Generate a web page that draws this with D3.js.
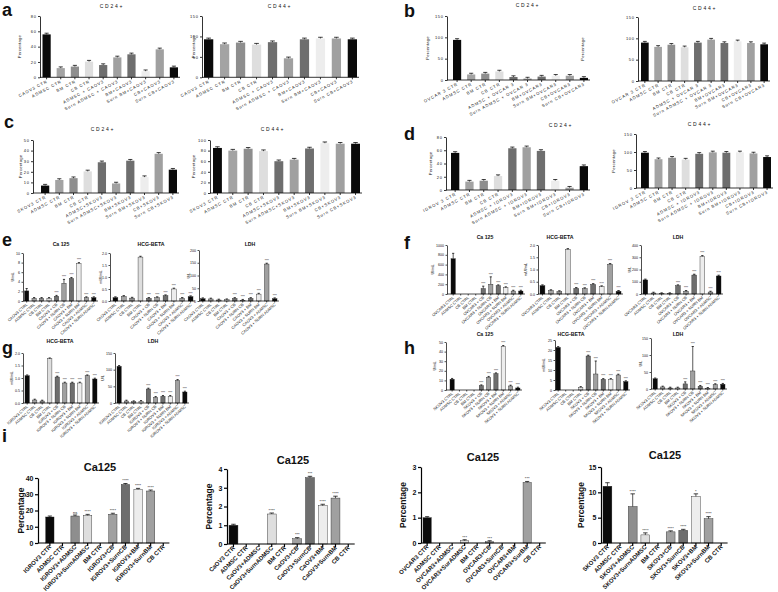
<!DOCTYPE html>
<html>
<head>
<meta charset="utf-8">
<script src="https://cdn.jsdelivr.net/npm/d3@7"></script>
<style>
body{margin:0;background:#fff}
svg{display:block}
text{font-family:"Liberation Sans",Arial,sans-serif;fill:#111}
</style>
</head>
<body>
<svg id="fig" width="778" height="592"></svg>
<script>
// ---- data ----
var shades = ["#0a0a0a","#a3a3a3","#8e8e8e","#dedede","#6e6e6e","#a0a0a0","#6e6e6e","#ededed","#a0a0a0","#0a0a0a"];

var labelsA = ["CAOV3 CTR","ADMSC CTR","BM CTR","CB CTR","ADMSC + CAOV3","Surn ADMSC + CAOV3","BM+CAOV3","Surn BM+CAOV3","CB+CAOV3","Surn CB+CAOV3"];
var labelsB = ["OVCAR 3 CTR","ADMSC CTR","BM CTR","CB CTR","ADMSC + OVCAR 3","Surn ADMSC + OVCAR 3","BM+OVCAR3","Surn BM+OVCAR3","CB+OVCAR3","Surn CB+OVCAR3"];
var labelsC = ["SKOV3 CTR","ADMSC CTR","BM CTR","CB CTR","ADMSC+SKOV3","Surn ADMSC+SKOV3","BM+SKOV3","Surn BM+SKOV3","CB+SKOV3","Surn CB+SKOV3"];
var labelsD = ["IGROV 3 CTR","ADMSC CTR","BM CTR","CB CTR","ADMSC + IGROV3","Surn ADMSC + IGROV3","BM+IGROV3","Surn BM+IGROV3","CB+IGROV3","Surn CB+IGROV3"];

var aCD24 = [56, 12, 14, 20.5, 16, 26, 30, 8, 36.5, 13];
var aCD44 = [93, 81, 85, 80, 86, 46.5, 93, 95, 95, 93];
var bCD24 = [94, 13, 15, 20, 7, 3.5, 8, 10, 10, 5];
var bCD44 = [90, 80, 85, 79, 90, 97, 89, 93, 89, 86];
var cCD24 = [7, 12.3, 14, 20.4, 29, 9, 30.5, 15, 37, 22];
var cCD44 = [85, 80, 83.5, 79, 60, 63, 84, 94, 93, 93];
var dCD24 = [56, 12.7, 14, 21, 63, 64.5, 59, 14, 3.5, 36];
var dCD44 = [98, 80, 84, 79, 95, 99, 98, 99, 96, 86];

function markerLabels(cell){
  return [cell+" CTRL","ADMSC CTRL","CB CTRL","BM CTRL",cell+" + CB",cell+" + SURN CB",cell+" + BM",cell+" + SURN BM",cell+" + ADMSC",cell+" + SURN ADMSC"];
}
var labelsE = markerLabels("CAOV3");
var labelsF = markerLabels("OVCAR3");
var labelsG = markerLabels("IGROV3");
var labelsH = markerLabels("SKOV3");
var sigEH = ["","","","","****","****","****","****","****","****"];

var eCa125 = [2.1, 0.55, 0.55, 0.55, 1.0, 3.7, 4.7, 7.8, 0.7, 0.7];
var eCa125Err = [0.5, 0, 0, 0, 0.1, 0.8, 0.2, 0.2, 0.05, 0.05];
var eHCG = [0.14, 0.19, 0.12, 1.83, 0.11, 0.14, 0.22, 0.5, 0.11, 0.18];
var eLDH = [9, 8, 4, 5, 10, 3, 10, 27, 145, 9];
var fCa125 = [720, 0, 0, 0, 110, 200, 170, 130, 60, 60];
var fCa125Err = [110, 0, 0, 0, 50, 150, 15, 10, 10, 10];
var fHCG = [0.34, 0.14, 0.1, 1.82, 0.23, 0.22, 0.39, 0.3, 1.21, 0.11];
var fLDH = [115, 8, 3, 3, 68, 22, 155, 307, 16, 147];
var gHCG = [1.09, 0.12, 0.08, 1.77, 1.04, 0.8, 0.8, 0.8, 1.09, 0.96];
var gLDH = [110, 6, 4, 5, 42, 17, 20, 20, 68, 33];
var hCa125 = [11.2, 0, 0, 0, 4.5, 13.3, 17, 45.5, 4.2, 2.1];
var hHCG = [21.3, 0, 0, 1.3, 17, 8, 5.3, 5.3, 7.5, 4.2];
var hHCGErr = [0.4, 0, 0, 0.1, 0.3, 6.5, 0.3, 0.3, 0.4, 0.3];
var hLDH = [30, 6, 3, 3, 15, 53, 8, 2, 13, 14];
var hLDHErr = [2, 0, 0, 0, 6, 72, 1, 0, 2, 2];

function iLabels(cell, s){
  return [cell+" CTR","ADMSC CTR",cell+"+ADMSC",cell+"+"+s+"ADMSC","BM CTR",cell+"+CB",cell+"+SurnCB",cell+"+BM",cell+"+"+s+"BM","CB CTR"];
}
var labelsI1 = iLabels("IGROV3","Surn");
var labelsI2 = iLabels("CaOV3","Surn");
var labelsI3 = iLabels("OVCAR3","Sur");
var labelsI4 = iLabels("SKOV3","Surn");

var iIGROV3 = [16, null, 16.6, 17, null, 17.7, 36, 33, 32, null];
var iIGROV3Err = [0.5, 0, 0.5, 0.3, 0, 0.4, 0.5, 0.5, 0.4, 0];
var iIGROV3Sig = ["","","ns","****","","****","****","****","****",""];
var iCAOV3 = [1.0, null, null, 1.6, null, 0.28, 3.54, 2.04, 2.45, null];
var iCAOV3Err = [0, 0, 0, 0.05, 0, 0.06, 0.07, 0.08, 0.1, 0];
var iCAOV3Sig = ["","","","****","","***","***","****","****",""];
var iOVCAR3 = [1.0, null, null, 0.09, null, 0.05, null, null, 2.39, null];
var iOVCAR3Err = [0, 0, 0, 0.02, 0, 0.02, 0, 0, 0.03, 0];
var iOVCAR3Sig = ["","","","***","","***","","","***",""];
var iSKOV3 = [11.2, null, 7.2, 1.6, null, 2.2, 2.5, 9.2, 4.8, null];
var iSKOV3Err = [0.7, 0, 2.5, 0.4, 0, 0.15, 0.15, 0.5, 0.4, 0];
var iSKOV3Sig = ["","","****","****","","****","****","*","****",""];

// ---- drawing ----
var svg = d3.select("#fig");

var styles = {
  cd: {tick:2, tickFont:4, tickSp:0.6, labFont:4.2, labSp:0.9, angle:28, labDy:5, titleFont:5, titleSp:1.8, titleW:"normal", ylabFont:4.2, ylabW:"normal", ylabSp:0.2, axisW:0.8, cap:1.2, stroke:"none", sigFont:3, tickW:"normal", labW:"normal"},
  eh: {tick:1.5, tickFont:3.6, tickSp:0, labFont:4, labSp:0, angle:42, labDy:4, titleFont:5.2, titleSp:0, titleW:"bold", ylabFont:3.8, ylabW:"normal", ylabSp:0, axisW:0.7, cap:0.8, stroke:"#222", sigFont:2.6, tickW:"normal", labW:"normal"},
  i:  {tick:3, tickFont:7, tickSp:0, labFont:6, labSp:0, angle:45, labDy:4.5, titleFont:11, titleSp:0, titleW:"bold", ylabFont:8.5, ylabW:"bold", ylabSp:0, axisW:1.2, cap:1, stroke:"#222", sigFont:4, tickW:"bold", labW:"bold"}
};

function barChart(c){
  var st = styles[c.kind];
  var g = svg.append("g");
  var n = c.vals.length;
  var x = d3.scaleBand().domain(d3.range(n)).range([c.lx, c.rx]).paddingInner(c.pad || 0.42).paddingOuter(0);
  var y = d3.scaleLinear().domain([0, c.max]).range([c.yb, c.yt]);
  var bw = x.bandwidth();
  var rows = c.vals.map(function(v, i){ return {v: v, i: i, e: c.err ? c.err[i] : 0}; })
    .filter(function(d){ return d.v != null; });

  g.selectAll(".bar").data(rows).enter().append("rect")
    .attr("class", "bar")
    .attr("x", function(d){ return x(d.i); })
    .attr("y", function(d){ return y(d.v); })
    .attr("width", bw)
    .attr("height", function(d){ return y(0) - y(d.v); })
    .attr("fill", function(d){ return shades[d.i]; })
    .attr("stroke", st.stroke)
    .attr("stroke-width", 0.4);

  // error bars
  var eb = g.selectAll(".err").data(rows.filter(function(d){ return d.v > 0; })).enter().append("g").attr("class", "err");
  function topOf(d){ return Math.min(y(d.v + d.e), y(d.v) - st.cap); }
  eb.append("line")
    .attr("x1", function(d){ return x(d.i) + bw / 2; })
    .attr("x2", function(d){ return x(d.i) + bw / 2; })
    .attr("y1", function(d){ return y(d.v); })
    .attr("y2", topOf)
    .attr("stroke", "#111").attr("stroke-width", 0.7);
  eb.append("line")
    .attr("x1", function(d){ return x(d.i) + bw * 0.25; })
    .attr("x2", function(d){ return x(d.i) + bw * 0.75; })
    .attr("y1", topOf).attr("y2", topOf)
    .attr("stroke", "#111").attr("stroke-width", 0.8);

  if (c.sig){
    g.selectAll(".sig").data(rows).enter().append("text")
      .attr("x", function(d){ return x(d.i) + bw / 2; })
      .attr("y", function(d){ return topOf(d) - 1.2; })
      .attr("text-anchor", "middle")
      .attr("font-size", st.sigFont)
      .text(function(d){ return c.sig[d.i]; });
  }

  // y axis
  var ya = g.append("g").attr("transform", "translate(" + c.ax + ",0)")
    .call(d3.axisLeft(y).tickValues(c.ticks).tickSize(st.tick).tickSizeOuter(0).tickPadding(1.5)
      .tickFormat(c.fmt ? d3.format(c.fmt) : d3.format("d")));
  ya.select(".domain").attr("stroke-width", st.axisW);
  ya.selectAll(".tick line").attr("stroke-width", st.axisW);
  ya.selectAll("text").attr("font-size", st.tickFont).attr("font-weight", st.tickW)
    .attr("letter-spacing", st.tickSp).attr("font-family", null);

  // x axis line + ticks
  g.append("line").attr("x1", c.ax).attr("x2", c.rx + 2).attr("y1", c.yb).attr("y2", c.yb)
    .attr("stroke", "#000").attr("stroke-width", st.axisW);
  g.selectAll(".xt").data(d3.range(n)).enter().append("line")
    .attr("x1", function(i){ return x(i) + bw / 2; })
    .attr("x2", function(i){ return x(i) + bw / 2; })
    .attr("y1", c.yb).attr("y2", c.yb + st.tick)
    .attr("stroke", "#000").attr("stroke-width", st.axisW);

  g.selectAll(".xl").data(c.labels).enter().append("text")
    .attr("transform", function(d, i){
      return "translate(" + (x(i) + bw / 2 + st.labFont * 0.3) + "," + (c.yb + st.labDy) + ") rotate(" + (-st.angle) + ")";
    })
    .attr("text-anchor", "end")
    .attr("font-size", st.labFont)
    .attr("font-weight", st.labW)
    .attr("letter-spacing", st.labSp)
    .text(function(d){ return d; });

  g.append("text").attr("x", c.tx).attr("y", c.ty).attr("text-anchor", "middle")
    .attr("font-size", st.titleFont).attr("font-weight", st.titleW).attr("letter-spacing", st.titleSp)
    .text(c.title);

  g.append("text")
    .attr("transform", "translate(" + c.ylx + "," + ((c.yt + c.yb) / 2) + ") rotate(-90)")
    .attr("text-anchor", "middle")
    .attr("font-size", st.ylabFont).attr("font-weight", st.ylabW).attr("letter-spacing", st.ylabSp)
    .text(c.ylab);
}

var t150 = [0, 50, 100, 150];

// a-d : CD24+/CD44+
barChart({kind:"cd", vals:aCD24, labels:labelsA, ax:40, lx:42.5, rx:178, yt:16, yb:77.3, max:80, ticks:[0,20,40,60,80], title:"CD24+", tx:112, ty:8, ylab:"Percentage", ylx:21});
barChart({kind:"cd", vals:aCD44, labels:labelsA, ax:202, lx:204, rx:357, yt:16, yb:77.3, max:150, ticks:t150, title:"CD44+", tx:280, ty:8, ylab:"Percentage", ylx:195});
barChart({kind:"cd", vals:bCD24, labels:labelsB, ax:447, lx:453, rx:588, yt:16, yb:80, max:150, ticks:t150, title:"CD24+", tx:528, ty:7, ylab:"Percentage", ylx:429});
barChart({kind:"cd", vals:bCD44, labels:labelsB, ax:638, lx:641, rx:768, yt:17, yb:81, max:150, ticks:t150, title:"CD44+", tx:705, ty:10, ylab:"Percentage", ylx:584});
barChart({kind:"cd", vals:cCD24, labels:labelsC, ax:33, lx:41, rx:177, yt:140, yb:193, max:50, ticks:[0,10,20,30,40,50], title:"CD24+", tx:103, ty:131, ylab:"Percentage", ylx:22});
barChart({kind:"cd", vals:cCD44, labels:labelsC, ax:210, lx:213, rx:360, yt:140, yb:193, max:100, ticks:[0,20,40,60,80,100], title:"CD44+", tx:273, ty:131, ylab:"Percentage", ylx:195});
barChart({kind:"cd", vals:dCD24, labels:labelsD, ax:446, lx:451, rx:588, yt:137, yb:190, max:80, ticks:[0,20,40,60,80], title:"CD24+", tx:561, ty:127, ylab:"Percentage", ylx:432});
barChart({kind:"cd", vals:dCD44, labels:labelsD, ax:636, lx:641, rx:771, yt:134, yb:188, max:150, ticks:t150, title:"CD44+", tx:700, ty:126, ylab:"Percentage", ylx:615});

// e-h : serum markers
barChart({kind:"eh", vals:eCa125, err:eCa125Err, sig:sigEH, labels:labelsE, ax:23, lx:24.5, rx:96, yt:253, yb:301, max:10, ticks:[0,2,4,6,8,10], title:"Ca 125", tx:61, ty:246, ylab:"U/mL", ylx:14});
barChart({kind:"eh", vals:eHCG, sig:sigEH, labels:labelsE, ax:110, lx:113, rx:193, yt:253, yb:301, max:2, ticks:[0,0.5,1,1.5,2], fmt:".1f", title:"HCG-BETA", tx:151, ty:246, ylab:"mUI/mL", ylx:102});
barChart({kind:"eh", vals:eLDH, sig:sigEH, labels:labelsE, ax:199, lx:200.5, rx:277, yt:250, yb:301, max:200, ticks:[0,50,100,150,200], title:"LDH", tx:250, ty:246, ylab:"U/L", ylx:190});
barChart({kind:"eh", vals:fCa125, err:fCa125Err, sig:sigEH, labels:labelsF, ax:447, lx:451, rx:523, yt:245, yb:294, max:1000, ticks:[0,200,400,600,800,1000], title:"Ca 125", tx:485, ty:239, ylab:"UI/mL", ylx:434});
barChart({kind:"eh", vals:fHCG, sig:sigEH, labels:labelsF, ax:538, lx:540, rx:621, yt:245, yb:294, max:2, ticks:[0,0.5,1,1.5,2], fmt:".1f", title:"HCG-BETA", tx:560, ty:239, ylab:"mUI/mL", ylx:527});
barChart({kind:"eh", vals:fLDH, sig:sigEH, labels:labelsF, ax:641, lx:643, rx:721, yt:245, yb:294, max:400, ticks:[0,100,200,300,400], title:"LDH", tx:678, ty:239, ylab:"U/L", ylx:631});
barChart({kind:"eh", vals:gHCG, sig:sigEH, labels:labelsG, ax:23, lx:25, rx:97, yt:353, yb:403, max:2, ticks:[0,0.5,1,1.5,2], fmt:".1f", title:"HCG-BETA", tx:60, ty:343, ylab:"mUI/mL", ylx:13});
barChart({kind:"eh", vals:gLDH, sig:sigEH, labels:labelsG, ax:115, lx:117, rx:187, yt:353, yb:403, max:150, ticks:t150, title:"LDH", tx:153, ty:343, ylab:"U/L", ylx:104});
barChart({kind:"eh", vals:hCa125, sig:sigEH, labels:labelsH, ax:446, lx:450, rx:520, yt:342, yb:390, max:50, ticks:[0,10,20,30,40,50], title:"Ca 125", tx:485, ty:336, ylab:"U/mL", ylx:436});
barChart({kind:"eh", vals:hHCG, err:hHCGErr, sig:sigEH, labels:labelsH, ax:555, lx:556, rx:628, yt:340, yb:390, max:25, ticks:[0,5,10,15,20,25], title:"HCG-BETA", tx:571, ty:336, ylab:"mUI/mL", ylx:545});
barChart({kind:"eh", vals:hLDH, err:hLDHErr, sig:sigEH, labels:labelsH, ax:651, lx:653, rx:725, yt:338, yb:389, max:150, ticks:t150, title:"LDH", tx:678, ty:336, ylab:"U/L", ylx:642});

// i : Ca125 percentage
barChart({kind:"i", vals:iIGROV3, err:iIGROV3Err, sig:iIGROV3Sig, labels:labelsI1, pad:0.34, ax:38, lx:45.7, rx:167.4, yt:478, yb:543, max:40, ticks:[0,10,20,30,40], title:"Ca125", tx:100, ty:471, ylab:"Percentage", ylx:24});
barChart({kind:"i", vals:iCAOV3, err:iCAOV3Err, sig:iCAOV3Sig, labels:labelsI2, pad:0.3, ax:227, lx:229, rx:352.7, yt:469, yb:544, max:4, ticks:[0,1,2,3,4], title:"Ca125", tx:293, ty:464, ylab:"Percentage", ylx:212});
barChart({kind:"i", vals:iOVCAR3, err:iOVCAR3Err, sig:iOVCAR3Sig, labels:labelsI3, pad:0.34, ax:421, lx:423, rx:543.8, yt:467, yb:543, max:3, ticks:[0,1,2,3], title:"Ca125", tx:483, ty:461, ylab:"Percentage", ylx:406});
barChart({kind:"i", vals:iSKOV3, err:iSKOV3Err, sig:iSKOV3Sig, labels:labelsI4, pad:0.3, ax:601, lx:603, rx:725.6, yt:467, yb:543, max:15, ticks:[0,5,10,15], title:"Ca125", tx:665, ty:459, ylab:"Percentage", ylx:584});

// panel letters
var letters = [["a",2,16],["b",404,17],["c",4,128],["d",404,140],["e",2,246],["f",404,249],["g",2,354],["h",404,354],["i",2,442]];
svg.selectAll(".panel").data(letters).enter().append("text")
  .attr("x", function(d){ return d[1]; }).attr("y", function(d){ return d[2]; })
  .attr("font-size", 18).attr("font-weight", "bold")
  .text(function(d){ return d[0]; });
</script>
</body>
</html>
